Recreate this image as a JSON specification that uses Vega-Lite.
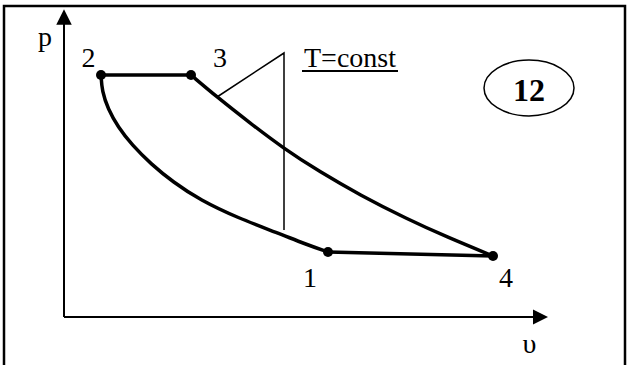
{
  "$schema": "https://vega.github.io/schema/vega-lite/v6.json",
  "width": 629,
  "height": 365,
  "autosize": "none",
  "padding": 0,
  "background": "white",
  "config": {"view": {"stroke": null}},
  "datasets": {
    "frame": [{"v1": -6.0, "v2": 56.1, "p1": 31.1, "p2": -6.5}],
    "curves": [
      {"seg": "2-1", "ord": 0, "v": 3.7, "p": 24.2},
      {"seg": "2-1", "ord": 1, "v": 3.8, "p": 22.6},
      {"seg": "2-1", "ord": 2, "v": 4.4, "p": 20.8},
      {"seg": "2-1", "ord": 3, "v": 5.4, "p": 19.0},
      {"seg": "2-1", "ord": 4, "v": 6.8, "p": 17.2},
      {"seg": "2-1", "ord": 5, "v": 8.7, "p": 15.3},
      {"seg": "2-1", "ord": 6, "v": 10.9, "p": 13.5},
      {"seg": "2-1", "ord": 7, "v": 13.6, "p": 11.7},
      {"seg": "2-1", "ord": 8, "v": 17.4, "p": 9.9},
      {"seg": "2-1", "ord": 9, "v": 21.4, "p": 8.4},
      {"seg": "2-1", "ord": 10, "v": 24.1, "p": 7.3},
      {"seg": "2-1", "ord": 11, "v": 26.4, "p": 6.5},
      {"seg": "3-4", "ord": 0, "v": 12.7, "p": 24.2},
      {"seg": "3-4", "ord": 1, "v": 15.3, "p": 22.0},
      {"seg": "3-4", "ord": 2, "v": 18.6, "p": 19.4},
      {"seg": "3-4", "ord": 3, "v": 21.9, "p": 16.9},
      {"seg": "3-4", "ord": 4, "v": 25.6, "p": 14.5},
      {"seg": "3-4", "ord": 5, "v": 29.6, "p": 12.2},
      {"seg": "3-4", "ord": 6, "v": 34.3, "p": 9.8},
      {"seg": "3-4", "ord": 7, "v": 38.3, "p": 8.0},
      {"seg": "3-4", "ord": 8, "v": 42.9, "p": 6.1},
      {"seg": "2-3", "ord": 0, "v": 3.7, "p": 24.2},
      {"seg": "2-3", "ord": 1, "v": 12.7, "p": 24.2},
      {"seg": "1-4", "ord": 0, "v": 26.4, "p": 6.5},
      {"seg": "1-4", "ord": 1, "v": 42.9, "p": 6.1}
    ],
    "thin": [
      {"seg": "iso", "ord": 0, "v": 15.3, "p": 22.0},
      {"seg": "iso", "ord": 1, "v": 22.0, "p": 26.4},
      {"seg": "iso", "ord": 2, "v": 22.0, "p": 8.7}
    ],
    "axes": [
      {"seg": "y", "ord": 0, "v": 0, "p": 0},
      {"seg": "y", "ord": 1, "v": 0, "p": 29.5},
      {"seg": "x", "ord": 0, "v": 0, "p": 0},
      {"seg": "x", "ord": 1, "v": 47.3, "p": 0},
      {"seg": "underline", "ord": 0, "v": 23.8, "p": 24.6},
      {"seg": "underline", "ord": 1, "v": 33.4, "p": 24.6}
    ],
    "points": [
      {"state": "1", "v": 26.4, "p": 6.5},
      {"state": "2", "v": 3.7, "p": 24.2},
      {"state": "3", "v": 12.7, "p": 24.2},
      {"state": "4", "v": 42.9, "p": 6.1}
    ],
    "arrowUp": [{"v": 0, "p": 30.0}],
    "arrowRight": [{"v": 47.65, "p": 0}],
    "labels": [
      {"label": "p", "v": -1.9, "p": 27.1},
      {"label": "2", "v": 2.45, "p": 25.0},
      {"label": "3", "v": 15.6, "p": 25.0},
      {"label": "T=const", "v": 28.6, "p": 25.0},
      {"label": "1", "v": 24.6, "p": 3.0},
      {"label": "4", "v": 44.2, "p": 3.0},
      {"label": "υ", "v": 46.55, "p": -3.6}
    ],
    "badge": [{"label": "12", "v": 46.5, "p": 22.9, "pb": 21.6}]
  },
  "layer": [
    {
      "data": {"name": "frame"},
      "mark": {"type": "rect", "fill": "white", "fillOpacity": 0, "stroke": "black", "strokeWidth": 2.5},
      "encoding": {
        "x": {"field": "v1", "type": "quantitative", "scale": {"domain": [-6.4, 56.5], "nice": false, "zero": false}, "axis": null},
        "x2": {"field": "v2"},
        "y": {"field": "p1", "type": "quantitative", "scale": {"domain": [-4.8, 31.7], "nice": false, "zero": false}, "axis": null},
        "y2": {"field": "p2"}
      }
    },
    {
      "data": {"name": "axes"},
      "mark": {"type": "line", "color": "black", "strokeWidth": 2, "clip": false},
      "encoding": {
        "x": {"field": "v", "type": "quantitative", "scale": {"domain": [-6.4, 56.5], "nice": false, "zero": false}, "axis": null},
        "y": {"field": "p", "type": "quantitative", "scale": {"domain": [-4.8, 31.7], "nice": false, "zero": false}, "axis": null},
        "detail": {"field": "seg"},
        "order": {"field": "ord"}
      }
    },
    {
      "data": {"name": "arrowUp"},
      "mark": {"type": "point", "shape": "M0,-1L1,1L-1,1Z", "filled": true, "color": "black", "size": 240, "opacity": 1},
      "encoding": {
        "x": {"field": "v", "type": "quantitative", "scale": {"domain": [-6.4, 56.5], "nice": false, "zero": false}, "axis": null},
        "y": {"field": "p", "type": "quantitative", "scale": {"domain": [-4.8, 31.7], "nice": false, "zero": false}, "axis": null}
      }
    },
    {
      "data": {"name": "arrowRight"},
      "mark": {"type": "point", "shape": "M1,0L-1,-1L-1,1Z", "filled": true, "color": "black", "size": 225, "opacity": 1},
      "encoding": {
        "x": {"field": "v", "type": "quantitative", "scale": {"domain": [-6.4, 56.5], "nice": false, "zero": false}, "axis": null},
        "y": {"field": "p", "type": "quantitative", "scale": {"domain": [-4.8, 31.7], "nice": false, "zero": false}, "axis": null}
      }
    },
    {
      "data": {"name": "thin"},
      "mark": {"type": "line", "color": "black", "strokeWidth": 1.5},
      "encoding": {
        "x": {"field": "v", "type": "quantitative", "scale": {"domain": [-6.4, 56.5], "nice": false, "zero": false}, "axis": null},
        "y": {"field": "p", "type": "quantitative", "scale": {"domain": [-4.8, 31.7], "nice": false, "zero": false}, "axis": null},
        "detail": {"field": "seg"},
        "order": {"field": "ord"}
      }
    },
    {
      "data": {"name": "curves"},
      "mark": {"type": "line", "color": "black", "strokeWidth": 3.5, "interpolate": "basis", "strokeCap": "round"},
      "encoding": {
        "x": {"field": "v", "type": "quantitative", "scale": {"domain": [-6.4, 56.5], "nice": false, "zero": false}, "axis": null},
        "y": {"field": "p", "type": "quantitative", "scale": {"domain": [-4.8, 31.7], "nice": false, "zero": false}, "axis": null},
        "detail": {"field": "seg"},
        "order": {"field": "ord"}
      }
    },
    {
      "data": {"name": "points"},
      "mark": {"type": "point", "shape": "circle", "filled": true, "color": "black", "size": 100, "opacity": 1},
      "encoding": {
        "x": {"field": "v", "type": "quantitative", "scale": {"domain": [-6.4, 56.5], "nice": false, "zero": false}, "axis": null},
        "y": {"field": "p", "type": "quantitative", "scale": {"domain": [-4.8, 31.7], "nice": false, "zero": false}, "axis": null}
      }
    },
    {
      "data": {"name": "labels"},
      "mark": {"type": "text", "font": "Liberation Serif", "fontSize": 28, "color": "black", "align": "center", "baseline": "alphabetic"},
      "encoding": {
        "x": {"field": "v", "type": "quantitative", "scale": {"domain": [-6.4, 56.5], "nice": false, "zero": false}, "axis": null},
        "y": {"field": "p", "type": "quantitative", "scale": {"domain": [-4.8, 31.7], "nice": false, "zero": false}, "axis": null},
        "text": {"field": "label"}
      }
    },
    {
      "data": {"name": "badge"},
      "mark": {"type": "point", "shape": "M-1,0A1,0.62,0,1,1,1,0A1,0.62,0,1,1,-1,0Z", "filled": false, "color": "black", "strokeWidth": 1.5, "size": 8100, "opacity": 1},
      "encoding": {
        "x": {"field": "v", "type": "quantitative", "scale": {"domain": [-6.4, 56.5], "nice": false, "zero": false}, "axis": null},
        "y": {"field": "p", "type": "quantitative", "scale": {"domain": [-4.8, 31.7], "nice": false, "zero": false}, "axis": null}
      }
    },
    {
      "data": {"name": "badge"},
      "mark": {"type": "text", "font": "Liberation Serif", "fontSize": 32, "fontWeight": "bold", "color": "black", "align": "center", "baseline": "alphabetic"},
      "encoding": {
        "x": {"field": "v", "type": "quantitative", "scale": {"domain": [-6.4, 56.5], "nice": false, "zero": false}, "axis": null},
        "y": {"field": "pb", "type": "quantitative", "scale": {"domain": [-4.8, 31.7], "nice": false, "zero": false}, "axis": null},
        "text": {"field": "label"}
      }
    }
  ]
}
